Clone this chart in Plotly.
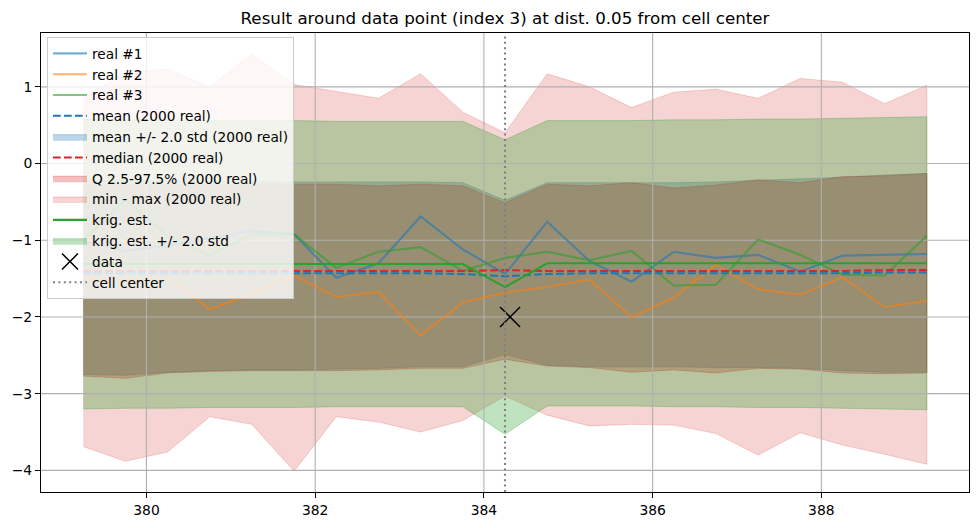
import plotly.graph_objects as go

# ---------------- data ----------------
x_pos = [379.25, 379.75, 380.25, 380.75, 381.25, 381.75, 382.25, 382.75, 383.25, 383.75,
         384.25, 384.75, 385.25, 385.75, 386.25, 386.75, 387.25, 387.75, 388.25, 388.75, 389.25]

real1 = [-1.01, -1.14, -1.07, -0.97, -0.88, -0.92, -1.49, -1.30, -0.69, -1.12,
         -1.44, -0.76, -1.27, -1.54, -1.15, -1.23, -1.19, -1.41, -1.20, -1.19, -1.18]
real2 = [-1.50, -1.55, -1.48, -1.90, -1.70, -1.46, -1.74, -1.67, -2.24, -1.81,
         -1.68, -1.61, -1.51, -2.00, -1.75, -1.32, -1.64, -1.71, -1.48, -1.87, -1.79]
real3 = [-1.00, -0.47, -0.94, -1.20, -0.92, -0.92, -1.36, -1.15, -1.09, -1.40,
         -1.23, -1.15, -1.26, -1.14, -1.59, -1.58, -0.99, -1.19, -1.45, -1.46, -0.94]

mean_real = [-1.43, -1.43, -1.43, -1.43, -1.43, -1.43, -1.43, -1.43, -1.43, -1.44,
             -1.47, -1.44, -1.43, -1.43, -1.43, -1.43, -1.43, -1.43, -1.43, -1.42, -1.42]
mstd_upper = [-0.22, -0.22, -0.23, -0.23, -0.23, -0.24, -0.24, -0.24, -0.24, -0.25,
              -0.48, -0.25, -0.25, -0.25, -0.25, -0.24, -0.22, -0.20, -0.18, -0.15, -0.13]
mstd_lower = [-2.75, -2.76, -2.72, -2.70, -2.69, -2.69, -2.68, -2.67, -2.65, -2.65,
              -2.49, -2.63, -2.65, -2.65, -2.65, -2.66, -2.66, -2.67, -2.70, -2.72, -2.72]

median_real = [-1.40, -1.40, -1.40, -1.40, -1.40, -1.40, -1.40, -1.40, -1.40, -1.40,
               -1.39, -1.40, -1.40, -1.40, -1.40, -1.40, -1.40, -1.40, -1.40, -1.39, -1.39]
q_upper = [-0.28, -0.28, -0.28, -0.28, -0.27, -0.27, -0.27, -0.29, -0.27, -0.29,
           -0.51, -0.27, -0.29, -0.25, -0.32, -0.28, -0.21, -0.25, -0.17, -0.16, -0.13]
q_lower = [-2.77, -2.80, -2.73, -2.71, -2.70, -2.70, -2.70, -2.69, -2.67, -2.67,
           -2.55, -2.64, -2.66, -2.72, -2.69, -2.73, -2.67, -2.68, -2.73, -2.74, -2.73]

min_real = [-3.69, -3.88, -3.76, -3.30, -3.40, -4.01, -3.30, -3.37, -3.50, -3.35,
            -3.03, -3.28, -3.42, -3.40, -3.41, -3.52, -3.80, -3.51, -3.67, -3.79, -3.92]
max_real = [0.84, 1.19, 1.23, 1.00, 1.43, 1.03, 0.94, 0.85, 1.17, 0.67,
            0.40, 1.17, 1.00, 0.73, 0.93, 0.97, 0.85, 1.11, 1.06, 0.78, 1.02]

krig_est = [-1.31, -1.31, -1.31, -1.31, -1.31, -1.31, -1.31, -1.31, -1.31, -1.31,
            -1.61, -1.30, -1.30, -1.30, -1.30, -1.30, -1.30, -1.30, -1.30, -1.30, -1.30]
krig_std = [0.945, 0.94, 0.94, 0.935, 0.935, 0.935, 0.93, 0.93, 0.93, 0.93,
            0.96, 0.93, 0.93, 0.93, 0.935, 0.935, 0.94, 0.94, 0.945, 0.95, 0.955]
n_std = 2.0

data_x = [384.31]
data_y = [-2.0]
cell_center = 384.25

x_ticks = [380, 382, 384, 386, 388]
y_ticks = [-4, -3, -2, -1, 0, 1]
x_range = [378.75, 389.75]
y_range = [-4.282, 1.702]

title_text = "Result around data point (index 3) at dist. 0.05 from cell center"

# ---------------- styling ----------------
FONT = "DejaVu Sans"
BLUE = (31, 119, 180)
ORANGE = (255, 127, 14)
GREEN = (44, 160, 44)
RED = (214, 39, 40)


def rgba(c, a):
    return f"rgba({c[0]},{c[1]},{c[2]},{a})"


fig = go.Figure()


def band(lower, upper, color, alpha, name, rank):
    xs = x_pos + x_pos[::-1]
    ys = upper + lower[::-1]
    fig.add_trace(go.Scatter(
        x=xs, y=ys, mode="lines", fill="toself",
        fillcolor=rgba(color, alpha),
        line=dict(color=rgba(color, alpha), width=1),
        name=name, legendrank=rank, hoverinfo="skip"))


# fills (drawn first, like matplotlib zorder 1)
band(mstd_lower, mstd_upper, BLUE, 0.3, "mean +/- 2.0 std (2000 real)", 5)
band(q_lower, q_upper, RED, 0.3, "Q 2.5-97.5% (2000 real)", 7)
band(min_real, max_real, RED, 0.2, "min - max (2000 real)", 8)
k_lo = [e - n_std * s for e, s in zip(krig_est, krig_std)]
k_hi = [e + n_std * s for e, s in zip(krig_est, krig_std)]
band(k_lo, k_hi, GREEN, 0.3, "krig. est. +/- 2.0 std", 10)

# grid lines (above fills, below lines)
gx, gy = [], []
for t in x_ticks:
    gx += [t, t, None]
    gy += [y_range[0], y_range[1], None]
for t in y_ticks:
    gx += [x_range[0], x_range[1], None]
    gy += [t, t, None]
fig.add_trace(go.Scatter(x=gx, y=gy, mode="lines", line=dict(color="#b0b0b0", width=1.1),
                         showlegend=False, hoverinfo="skip"))

# lines
for vals, col, nm, rk in [(real1, BLUE, "real #1", 1), (real2, ORANGE, "real #2", 2),
                          (real3, GREEN, "real #3", 3)]:
    fig.add_trace(go.Scatter(x=x_pos, y=vals, mode="lines",
                             line=dict(color=rgba(col, 0.6), width=2.1),
                             name=nm, legendrank=rk))

fig.add_trace(go.Scatter(x=x_pos, y=mean_real, mode="lines",
                         line=dict(color=rgba(BLUE, 1), width=2.1, dash="7.7px,3.3px"),
                         name="mean (2000 real)", legendrank=4))
fig.add_trace(go.Scatter(x=x_pos, y=median_real, mode="lines",
                         line=dict(color=rgba(RED, 1), width=2.1, dash="7.7px,3.3px"),
                         name="median (2000 real)", legendrank=6))
fig.add_trace(go.Scatter(x=x_pos, y=krig_est, mode="lines",
                         line=dict(color=rgba(GREEN, 1), width=2.1),
                         name="krig. est.", legendrank=9))
fig.add_trace(go.Scatter(x=data_x, y=data_y, mode="markers",
                         marker=dict(symbol="x-thin", size=20, color="black",
                                     line=dict(color="black", width=1.5)),
                         name="data", legendrank=11))
fig.add_trace(go.Scatter(x=[cell_center, cell_center], y=y_range, mode="lines",
                         line=dict(color="#808080", width=2.1, dash="2px,3.4px"),
                         name="cell center", legendrank=12))

axis_common = dict(showline=True, linecolor="black", linewidth=1, mirror=True,
                   ticks="outside", ticklen=5, tickwidth=1, tickcolor="black",
                   showgrid=False, zeroline=False,
                   tickfont=dict(family=FONT, size=13.9, color="black"))

fig.update_layout(
    width=980, height=528,
    margin=dict(l=41, r=10, t=33, b=34),
    plot_bgcolor="white", paper_bgcolor="white",
    font=dict(family=FONT, size=13.9, color="black"),
    title=dict(text=title_text, x=0.5, xref="paper", xanchor="center",
               y=(528 - 18) / 528, yref="container", yanchor="middle",
               font=dict(family=FONT, size=16.7, color="black")),
    xaxis=dict(range=x_range, tickmode="array", tickvals=x_ticks,
               ticktext=[str(t) for t in x_ticks], **axis_common),
    yaxis=dict(range=y_range, tickmode="array", tickvals=y_ticks,
               ticktext=[str(t).replace("-", "\u2212") for t in y_ticks], **axis_common),
    legend=dict(x=(47 - 41) / 929, y=1 - (37 - 33) / 461, xanchor="left", yanchor="top",
                bgcolor="rgba(255,255,255,0.8)", bordercolor="#cccccc", borderwidth=1,
                font=dict(family=FONT, size=13.7, color="black"),
                itemwidth=34, traceorder="normal"),
    showlegend=True,
)

fig.write_html("out.html")
